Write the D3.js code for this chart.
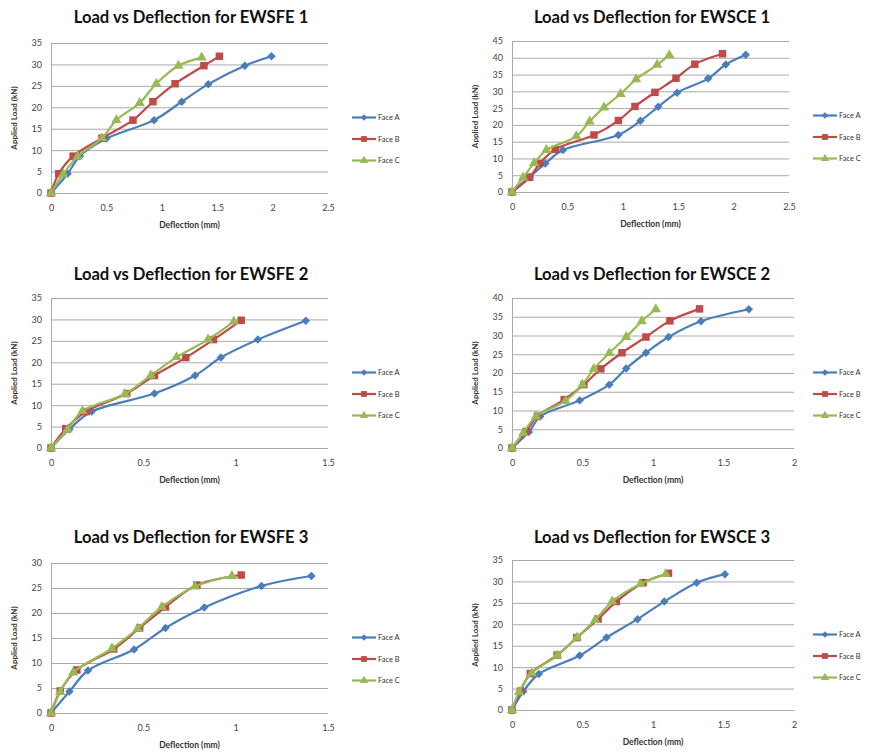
<!DOCTYPE html>
<html>
<head>
<meta charset="utf-8">
<script src="https://cdn.jsdelivr.net/npm/d3@7"></script>
<style>
	body { margin: 0; background: #fff; }
	svg { display: block; }
</style>
</head>
<body>
<script>
////////////////////////////////////////////////////////////
//// Data //////////////////////////////////////////////////
////////////////////////////////////////////////////////////
const faces = ["Face A", "Face B", "Face C"];
const titles = [
	"Load vs Deflection for EWSFE 1",
	"Load vs Deflection for EWSCE 1",
	"Load vs Deflection for EWSFE 2",
	"Load vs Deflection for EWSCE 2",
	"Load vs Deflection for EWSFE 3",
	"Load vs Deflection for EWSCE 3"
];
const xMaxes = [2.5, 2.5, 1.5, 2, 1.5, 2];
const yMaxes = [35, 45, 35, 40, 30, 35];

// [deflection (mm), load (kN)]
const ewsfe1A = [[0, 0], [0.15, 4.5], [0.26, 8.6], [0.5, 12.7], [0.93, 17], [1.18, 21.3], [1.42, 25.4], [1.75, 29.7], [1.99, 31.9]];
const ewsfe1B = [[0, 0], [0.07, 4.5], [0.2, 8.6], [0.46, 12.8], [0.74, 17], [0.92, 21.3], [1.12, 25.5], [1.38, 29.7], [1.52, 31.9]];
const ewsfe1C = [[0, 0], [0.11, 4.4], [0.24, 8.5], [0.46, 12.8], [0.59, 17], [0.8, 21], [0.95, 25.5], [1.15, 29.7], [1.36, 31.6]];

const ewsce1A = [[0, 0], [0.16, 4.5], [0.3, 8.5], [0.46, 12.5], [0.96, 17], [1.16, 21.2], [1.32, 25.4], [1.49, 29.6], [1.77, 33.8], [1.93, 38], [2.11, 40.9]];
const ewsce1B = [[0, 0], [0.16, 4.4], [0.25, 8.5], [0.39, 12.7], [0.74, 17], [0.96, 21.3], [1.11, 25.5], [1.29, 29.7], [1.48, 33.9], [1.65, 38.1], [1.9, 41.2]];
const ewsce1C = [[0, 0], [0.1, 4.3], [0.2, 8.6], [0.31, 12.5], [0.58, 16.6], [0.7, 21], [0.83, 25.2], [0.98, 29.2], [1.12, 33.6], [1.31, 37.9], [1.42, 40.8]];

const ewsfe2A = [[0, 0], [0.1, 4.4], [0.22, 8.5], [0.56, 12.7], [0.78, 16.9], [0.92, 21.1], [1.12, 25.3], [1.38, 29.7]];
const ewsfe2B = [[0, 0], [0.08, 4.5], [0.19, 8.5], [0.41, 12.7], [0.56, 16.9], [0.73, 21.1], [0.88, 25.3], [1.03, 29.8]];
const ewsfe2C = [[0, 0], [0.09, 4.3], [0.17, 8.6], [0.4, 12.6], [0.54, 16.9], [0.68, 21.2], [0.85, 25.3], [0.99, 29.5]];

const ewsce2A = [[0, 0], [0.12, 4.3], [0.2, 8.4], [0.48, 12.7], [0.69, 16.9], [0.81, 21.2], [0.95, 25.4], [1.11, 29.6], [1.34, 33.8], [1.68, 37]];
const ewsce2B = [[0, 0], [0.1, 4.4], [0.18, 8.5], [0.37, 12.9], [0.51, 16.9], [0.63, 21.1], [0.78, 25.4], [0.95, 29.6], [1.12, 33.9], [1.33, 37.1]];
const ewsce2C = [[0, 0], [0.08, 4], [0.17, 8.4], [0.38, 12.6], [0.5, 16.9], [0.58, 21.1], [0.69, 25.3], [0.81, 29.6], [0.92, 33.8], [1.02, 37]];

const ewsfe3A = [[0, 0], [0.1, 4.3], [0.2, 8.5], [0.45, 12.7], [0.62, 17], [0.83, 21.1], [1.14, 25.4], [1.41, 27.4]];
const ewsfe3B = [[0, 0], [0.05, 4.4], [0.14, 8.6], [0.34, 12.8], [0.48, 17], [0.62, 21.2], [0.79, 25.6], [1.03, 27.6]];
const ewsfe3C = [[0, 0], [0.05, 4.2], [0.12, 8.1], [0.33, 12.9], [0.47, 16.9], [0.6, 21.2], [0.78, 25.3], [0.98, 27.4]];

const ewsce3A = [[0, 0], [0.08, 4.3], [0.19, 8.4], [0.48, 12.7], [0.67, 16.9], [0.89, 21.2], [1.08, 25.3], [1.31, 29.7], [1.51, 31.7]];
const ewsce3B = [[0, 0], [0.06, 4.4], [0.13, 8.5], [0.32, 12.8], [0.46, 16.9], [0.61, 21.2], [0.74, 25.3], [0.93, 29.7], [1.11, 31.9]];
const ewsce3C = [[0, 0], [0.05, 4.2], [0.14, 8.6], [0.32, 12.7], [0.46, 16.9], [0.59, 21], [0.71, 25.3], [0.91, 29.4], [1.09, 31.7]];

const seriesByChart = [
	[ewsfe1A, ewsfe1B, ewsfe1C],
	[ewsce1A, ewsce1B, ewsce1C],
	[ewsfe2A, ewsfe2B, ewsfe2C],
	[ewsce2A, ewsce2B, ewsce2C],
	[ewsfe3A, ewsfe3B, ewsfe3C],
	[ewsce3A, ewsce3B, ewsce3C]
];

////////////////////////////////////////////////////////////
//// Setup /////////////////////////////////////////////////
////////////////////////////////////////////////////////////
const font = "Lato, 'Open Sans', sans-serif";
const colors = ["#4a7ebb", "#be4b48", "#98b954"];
const gridColor = "#a9a9a9";

// plot boxes for the 3x2 grid of charts
const layout = [
	{ left: 51, top: 43, bottom: 193, width: 277 },
	{ left: 512, top: 41, bottom: 192, width: 277 },
	{ left: 51, top: 298, bottom: 448, width: 277 },
	{ left: 512, top: 298, bottom: 448, width: 282 },
	{ left: 51, top: 563, bottom: 713, width: 277 },
	{ left: 512, top: 560, bottom: 710, width: 282 }
];
const titleY = [23, 23, 280, 280, 543, 543];

const diamond = {
	draw(ctx, size) {
		const r = Math.sqrt(size / 2);
		ctx.moveTo(0, -r);
		ctx.lineTo(r, 0);
		ctx.lineTo(0, r);
		ctx.lineTo(-r, 0);
		ctx.closePath();
	}
};
const symbols = [
	d3.symbol().type(diamond).size(36),
	d3.symbol().type(d3.symbolSquare).size(56),
	d3.symbol().type(d3.symbolTriangle).size(46)
];
const legendSymbols = [
	d3.symbol().type(diamond).size(22),
	d3.symbol().type(d3.symbolSquare).size(34),
	d3.symbol().type(d3.symbolTriangle).size(30)
];

const svg = d3
	.select("body")
	.append("svg")
	.attr("width", 876)
	.attr("height", 754)
	.style("font-family", font);

////////////////////////////////////////////////////////////
//// Render ////////////////////////////////////////////////
////////////////////////////////////////////////////////////
layout.forEach((box, i) => {
	const height = box.bottom - box.top;
	const x = d3.scaleLinear().domain([0, xMaxes[i]]).range([0, box.width]);
	const y = d3.scaleLinear().domain([0, yMaxes[i]]).range([height, 0]);

	const g = svg
		.append("g")
		.attr("transform", `translate(${box.left},${box.top})`);

	// horizontal gridlines + y tick labels
	g.append("g")
		.call(
			d3
				.axisLeft(y)
				.ticks(yMaxes[i] / 5)
				.tickSize(-box.width)
				.tickPadding(9)
		)
		.call(g => g.select(".domain").remove())
		.call(g => g.selectAll(".tick line").attr("stroke", gridColor))
		.call(g =>
			g
				.selectAll(".tick text")
				.attr("fill", "#444")
				.attr("font-size", 9)
				.attr("font-family", font)
		);

	// vertical axis line
	g.append("line")
		.attr("x1", 0.5)
		.attr("x2", 0.5)
		.attr("y1", 0)
		.attr("y2", height)
		.attr("stroke", gridColor);

	// x tick labels
	g.append("g")
		.attr("transform", `translate(0,${height})`)
		.call(
			d3
				.axisBottom(x)
				.tickValues(d3.range(0, xMaxes[i] + 0.01, 0.5))
				.tickFormat(d3.format("~g"))
				.tickSize(0)
				.tickPadding(12)
		)
		.call(g => g.select(".domain").remove())
		.call(g =>
			g
				.selectAll(".tick text")
				.attr("fill", "#444")
				.attr("font-size", 9)
				.attr("font-family", font)
		);

	// axis titles
	g.append("text")
		.attr("transform", `translate(-37,${height / 2}) rotate(-90)`)
		.attr("text-anchor", "middle")
		.attr("dy", "0.35em")
		.attr("font-size", 8)
		.attr("font-weight", "bold")
		.attr("fill", "#333")
		.text("Applied Load (kN)");

	g.append("text")
		.attr("x", box.width / 2)
		.attr("y", height + 35)
		.attr("text-anchor", "middle")
		.attr("font-size", 8.5)
		.attr("font-weight", "bold")
		.attr("fill", "#333")
		.text("Deflection (mm)");

	// chart title
	svg.append("text")
		.attr("x", box.left + 140)
		.attr("y", titleY[i])
		.attr("text-anchor", "middle")
		.attr("font-size", 16.6)
		.attr("font-weight", "bold")
		.attr("fill", "#111")
		.text(titles[i]);

	// series
	const line = d3
		.line()
		.x(d => x(d[0]))
		.y(d => y(d[1]))
		.curve(d3.curveCatmullRom);

	seriesByChart[i].forEach((values, s) => {
		g.append("path")
			.attr("fill", "none")
			.attr("stroke", colors[s])
			.attr("stroke-width", 2.2)
			.attr("d", line(values));

		g.append("g")
			.selectAll("path")
			.data(values)
			.join("path")
			.attr("transform", d => `translate(${x(d[0])},${y(d[1])})`)
			.attr("fill", colors[s])
			.attr("d", symbols[s]());
	});

	// legend
	const legend = g
		.append("g")
		.attr("transform", `translate(${(i % 2 === 0 ? 352 : 813) - box.left},0)`);

	faces.forEach((face, s) => {
		const ly = 74.5 + s * 21.5;
		legend
			.append("line")
			.attr("x1", 0)
			.attr("x2", 24)
			.attr("y1", ly)
			.attr("y2", ly)
			.attr("stroke", colors[s])
			.attr("stroke-width", 2.2);
		legend
			.append("path")
			.attr("transform", `translate(12,${ly})`)
			.attr("fill", colors[s])
			.attr("d", legendSymbols[s]());
		legend
			.append("text")
			.attr("x", 26)
			.attr("y", ly)
			.attr("dy", "0.35em")
			.attr("font-size", 7.5)
			.attr("fill", "#333")
			.text(face);
	});
});
</script>
</body>
</html>
